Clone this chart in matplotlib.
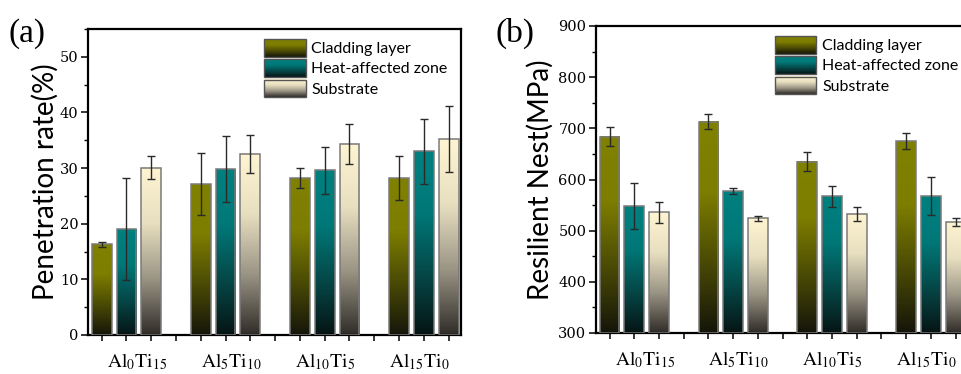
import numpy as np
import matplotlib
matplotlib.use('Agg')
import matplotlib.pyplot as plt
from matplotlib.colors import LinearSegmentedColormap
from matplotlib.legend_handler import HandlerBase
from matplotlib.image import BboxImage
from matplotlib.transforms import Bbox, TransformedBbox
from matplotlib.patches import Rectangle
from matplotlib.ticker import MultipleLocator

plt.rcParams['mathtext.fontset'] = 'stix'

groups = [r'$\mathrm{Al_{0}Ti_{15}}$', r'$\mathrm{Al_{5}Ti_{10}}$',
          r'$\mathrm{Al_{10}Ti_{5}}$', r'$\mathrm{Al_{15}Ti_{0}}$']
series = ['Cladding layer', 'Heat-affected zone', 'Substrate']

# (a) penetration rate (%)
pen_clad = [16.3, 27.1, 28.2, 28.2]
pen_clad_err = [0.5, 5.6, 1.8, 3.9]
pen_haz = [19.0, 29.8, 29.6, 33.0]
pen_haz_err = [9.2, 5.9, 4.2, 5.9]
pen_sub = [30.1, 32.6, 34.4, 35.2]
pen_sub_err = [2.1, 3.4, 3.6, 5.9]

# (b) resilient nest (MPa)
res_clad = [684, 713, 635, 675]
res_clad_err = [18, 15, 18, 16]
res_haz = [548, 577, 567, 567]
res_haz_err = [45, 6, 20, 37]
res_sub = [536, 524, 533, 517]
res_sub_err = [21, 5, 14, 7]

# gradient colormaps: dark at bottom -> colour at top
cmaps = [
    LinearSegmentedColormap.from_list('clad', ['#15150a', '#4a4a05', '#7d7d00', '#808000']),
    LinearSegmentedColormap.from_list('haz', ['#061414', '#054848', '#007878', '#008080']),
    LinearSegmentedColormap.from_list('sub', ['#302c28', '#9a9484', '#e8dfc0', '#fff5d2']),
]
grad = np.linspace(0, 1, 256).reshape(-1, 1)


class GradientHandler(HandlerBase):
    def __init__(self, cmap):
        super().__init__()
        self.cmap = cmap

    def create_artists(self, legend, orig_handle, xdescent, ydescent,
                       width, height, fontsize, trans):
        bb = TransformedBbox(Bbox.from_bounds(-xdescent, -ydescent, width, height), trans)
        img = BboxImage(bb, cmap=self.cmap, interpolation='bilinear', origin='lower')
        img.set_data(grad)
        img.set_clim(0, 1)
        rect = Rectangle((-xdescent, -ydescent), width, height, facecolor='none',
                         edgecolor='#555555', lw=1.0, transform=trans)
        return [img, rect]


def panel(ax, data, ylim, ymajor, yminor, ylabel, leg_xy, labelpad):
    base = ylim[0]
    gx = np.arange(len(groups)) * 4
    for i, (vals, errs) in enumerate(data):
        xs = gx + i
        heights = np.array(vals) - base
        bars = ax.bar(xs, heights, width=0.8, bottom=base, facecolor='none',
                      edgecolor='#7a7a7a', linewidth=1.1, zorder=3)
        for b in bars:
            x0, y0 = b.get_x(), b.get_y()
            ax.imshow(grad, cmap=cmaps[i], origin='lower', aspect='auto',
                      extent=(x0, x0 + b.get_width(), y0, y0 + b.get_height()),
                      interpolation='bilinear', zorder=2)
        ax.errorbar(xs, vals, yerr=errs, fmt='none', ecolor='#2a2a2a',
                    elinewidth=1.0, capsize=3, capthick=1.0, zorder=4)

    ax.set_xlim(-0.55, 14.5)
    ax.set_ylim(*ylim)
    ax.xaxis.remove_overlapping_locs = False
    ax.set_xticks(np.arange(0, 15))
    ax.set_xticklabels([])
    # category labels sit slightly tighter than the bar groups
    label_pos = 1.43 + np.arange(len(groups)) * 3.79
    ax.set_xticks(label_pos, groups, minor=True)
    ax.tick_params(axis='x', which='major', direction='out', length=4, width=1.1)
    ax.tick_params(axis='x', which='minor', length=0, pad=12, labelsize=14)
    ax.yaxis.set_major_locator(MultipleLocator(ymajor))
    ax.yaxis.set_minor_locator(MultipleLocator(yminor))
    ax.tick_params(axis='y', which='major', direction='out', length=5, width=1.1,
                   labelsize=10.5, pad=2)
    ax.tick_params(axis='y', which='minor', direction='out', length=3, width=1.0)
    for lab in ax.get_yticklabels():
        lab.set_fontfamily('DejaVu Serif')
    for sp in ax.spines.values():
        sp.set_linewidth(1.6)
    ax.set_ylabel(ylabel, fontsize=20, family='Lato', labelpad=labelpad)

    handles = [Rectangle((0, 0), 1, 1) for _ in series]
    ax.legend(handles, series, handler_map={h: GradientHandler(c) for h, c in zip(handles, cmaps)},
              loc='upper left', bbox_to_anchor=leg_xy, frameon=False,
              prop={'family': 'Lato', 'size': 11.5}, handlelength=2.6, handleheight=1.3,
              labelspacing=0.18, handletextpad=0.35, borderpad=0, borderaxespad=0)


fig = plt.figure(figsize=(9.62, 3.74), dpi=100)
ax1 = fig.add_axes([88 / 962, 1 - 335 / 374, 373 / 962, 306 / 374])
ax2 = fig.add_axes([596 / 962, 1 - 333 / 374, 372 / 962, 307 / 374])

panel(ax1, [(pen_clad, pen_clad_err), (pen_haz, pen_haz_err), (pen_sub, pen_sub_err)],
      (0, 55), 10, 5, 'Penetration rate(%)', (0.472, 0.967), 0.5)
panel(ax2, [(res_clad, res_clad_err), (res_haz, res_haz_err), (res_sub, res_sub_err)],
      (300, 900), 100, 50, 'Resilient Nest(MPa)', (0.481, 0.967), 3)

fig.text(9 / 962, 1 - 42 / 374, '(a)', fontsize=24, family='Liberation Serif')
fig.text(496 / 962, 1 - 42 / 374, '(b)', fontsize=24, family='Liberation Serif')

fig.savefig('out.png', dpi=100)
